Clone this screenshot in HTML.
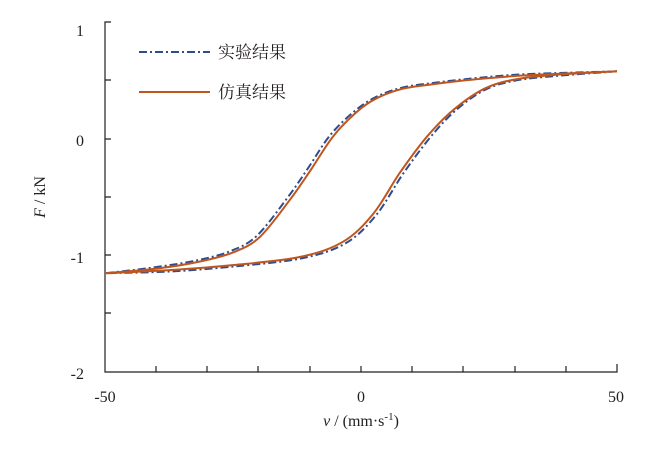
<!DOCTYPE html>
<html><head><meta charset="utf-8"><style>
body{margin:0;background:#fff}
svg text{font-family:"Liberation Serif","Noto Serif CJK SC",serif;fill:#231f20}
</style></head><body>
<svg id="s" width="654" height="449" xmlns="http://www.w3.org/2000/svg">
<g stroke="#231f20" stroke-width="1.2" fill="none">
<path d="M111,22 H105 V372 H617 V364"/>
<path d="M105,80 H111 M105,139 H111 M105,197 H111 M105,255 H111 M105,313 H111"/>
<path d="M156,372 V366 M207,372 V366 M258,372 V366 M310,372 V366 M361,372 V366 M412,372 V366 M463,372 V366 M515,372 V366 M566,372 V366"/>
</g>
<g font-size="16" text-anchor="end">
<text x="84" y="36">1</text><text x="84" y="146">0</text><text x="84" y="263">-1</text><text x="84" y="379">-2</text>
</g>
<g font-size="16" text-anchor="middle">
<text x="105" y="402">-50</text><text x="361" y="402">0</text><text x="616" y="402">50</text>
<text x="361" y="426"><tspan font-style="italic">v</tspan> / (mm·s<tspan dy="-6" font-size="11">-1</tspan><tspan dy="6">)</tspan></text>
</g>
<text font-size="16" transform="translate(45,197) rotate(-90)" text-anchor="middle"><tspan font-style="italic">F</tspan> / kN</text>
<path d="M139,52 H210" stroke="#2e4d8f" stroke-width="2" stroke-dasharray="8,3,2,3"/>
<text x="218" y="58" font-size="17">实验结果</text>
<path d="M139,92 H210" stroke="#c0561e" stroke-width="2"/>
<text x="218" y="98" font-size="17">仿真结果</text>
<path id="b" fill="none" stroke="#2e4d8f" stroke-width="2" stroke-dasharray="8,3,2,3"/>
<path id="o" fill="none" stroke="#c0561e" stroke-width="2"/>
</svg>
<script>
function X(v){return 361.5+5.11*v}function Y(f){return 139-116.7*f}
var L=[[-50,-1.15],[-40,-1.11],[-31.6,-1.05],[-25,-0.97],[-19.9,-0.84],[-14,-0.52],[-10,-0.27],[-5.6,0.02],[-1,0.23],[3,0.35],[8,0.43],[14,0.47],[22,0.51],[32,0.545],[50,0.58]];
var R=[[50,0.58],[38,0.55],[30,0.51],[24,0.43],[18,0.25],[12.8,0.02],[7.5,-0.29],[2.3,-0.64],[-3.6,-0.88],[-12,-1.01],[-25,-1.08],[-38,-1.125],[-50,-1.15]];
function path(pts,s1,dy){var P=pts.map(function(p,i){var e=(i==0||i==pts.length-1);var sh=e?0:s1*Math.max(0,Math.min(1,(0.5-p[1])*2));return [X(p[0]+sh),Y(p[1]+(e?0:dy))]});
var d="M"+P[0][0].toFixed(1)+","+P[0][1].toFixed(1);
for(var i=0;i<P.length-1;i++){var p0=P[Math.max(i-1,0)],p1=P[i],p2=P[i+1],p3=P[Math.min(i+2,P.length-1)];
d+="C"+(p1[0]+(p2[0]-p0[0])/6).toFixed(1)+","+(p1[1]+(p2[1]-p0[1])/6).toFixed(1)+" "+(p2[0]-(p3[0]-p1[0])/6).toFixed(1)+","+(p2[1]-(p3[1]-p1[1])/6).toFixed(1)+" "+p2[0].toFixed(1)+","+p2[1].toFixed(1);}
return d;}
document.getElementById("o").setAttribute("d",path(L,0,0)+path(R,0,0));
document.getElementById("b").setAttribute("d",path(L,-0.6,0.01)+path(R,0.6,-0.01));
</script>
</body></html>
